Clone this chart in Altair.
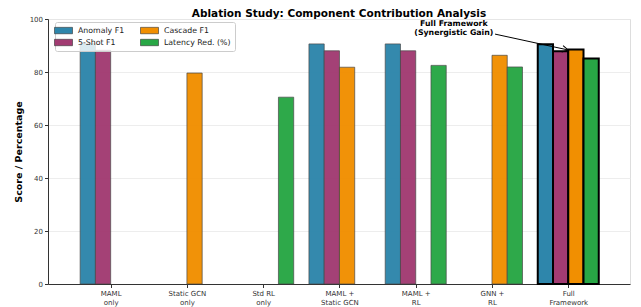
import json
import altair as alt
import pandas as pd

# ---- data ----
categories = ["MAML\nonly", "Static GCN\nonly", "Std RL\nonly", "MAML +\nStatic GCN",
              "MAML +\nRL", "GNN +\nRL", "Full\nFramework"]
series = ["Anomaly F1", "5-Shot F1", "Cascade F1", "Latency Red. (%)"]
colors = ["#2E86AB", "#A23B72", "#F18F01", "#28A745"]
anomaly_f1 = [90.7, None, None, 90.6, 90.6, None, 90.5]
shot5_f1 = [88.2, None, None, 88.0, 88.0, None, 87.8]
cascade_f1 = [None, 79.6, None, 81.8, None, 86.3, 88.5]
latency_red = [None, None, 70.5, None, 82.5, 81.9, 85.1]
y_ticks = [0, 20, 40, 60, 80, 100]
annot_text = "Full Framework\n(Synergistic Gain)"
annot_text_pos = (4.5, 98.0)
annot_tail = (5.04, 94.3)
annot_tip = (6.0, 88.3)

values = [anomaly_f1, shot5_f1, cascade_f1, latency_red]
rows = []
for k, (name, vals) in enumerate(zip(series, values)):
    for ci, v in enumerate(vals):
        if v is None:
            continue
        rows.append({"ci": ci, "k": k, "series": name, "value": v,
                     "full": ci == len(categories) - 1})
df = pd.DataFrame(rows)

label_lists = json.dumps([c.split("\n") for c in categories])

xscale = alt.Scale(domain=[-0.756, 6.744], nice=False, zero=False)
yscale = alt.Scale(domain=[0, 100], nice=False)

FONT = "DejaVu Sans"

base = alt.Chart(df).transform_calculate(
    xc="datum.ci + (datum.k - 1.5) * 0.2",
    x1="datum.xc - 0.1",
    x2="datum.xc + 0.1",
)

color_enc = alt.Color(
    "series:N",
    scale=alt.Scale(domain=series, range=colors),
    legend=alt.Legend(
        title=None, orient="none", legendX=7, legendY=3, columns=2,
        symbolType="M-2.25,-0.8L2.25,-0.8L2.25,0.8L-2.25,0.8Z", symbolSize=64,
        symbolStrokeColor="#333", symbolStrokeWidth=0.6, symbolOpacity=1,
        labelFontSize=7.8, labelFont=FONT, labelColor="#222", labelOffset=10,
        columnPadding=14, rowPadding=3, padding=4,
        fillColor="rgba(255,255,255,0.82)", strokeColor="#cccccc", cornerRadius=2,
    ),
)

x_enc = alt.X("x1:Q", scale=xscale, axis=alt.Axis(
    values=list(range(len(categories))), labelExpr=f"{label_lists}[datum.value]",
    grid=False, title=None, tickSize=3.5, tickColor="#333", domainColor="#333",
    labelFontSize=7, labelFont=FONT, labelColor="#333", labelPadding=2,
    labelLineHeight=8.5, labelBaseline="top"))
y_enc = alt.Y("value:Q", scale=yscale, axis=alt.Axis(
    values=y_ticks, grid=True, gridColor="#e9e9e9", gridWidth=0.8,
    title="Score / Percentage", titleFont=FONT, titleFontSize=9.5,
    titleFontWeight="bold", titleColor="black", titlePadding=6,
    tickSize=3.5, tickColor="#333", domainColor="#333",
    labelFontSize=7, labelFont=FONT, labelColor="#333", labelPadding=2))

bars = base.transform_filter("!datum.full").mark_bar(
    stroke="#444", strokeWidth=0.7, opacity=0.97, orient="vertical"
).encode(x=x_enc, x2="x2:Q", y=y_enc, y2=alt.datum(0), color=color_enc)

full_bars = base.transform_filter("datum.full").mark_bar(
    stroke="black", strokeWidth=2.0, opacity=1, orient="vertical"
).encode(x=x_enc, x2="x2:Q", y=y_enc, y2=alt.datum(0), color=color_enc)

ann_df = pd.DataFrame([{
    "tx": annot_text_pos[0], "ty": annot_text_pos[1], "text": annot_text,
    "ax": annot_tail[0], "ay": annot_tail[1], "bx": annot_tip[0], "by": annot_tip[1],
}])
ann_base = alt.Chart(ann_df)
ann_text = ann_base.mark_text(
    font=FONT, fontSize=7.8, fontWeight="bold", align="center", baseline="middle",
    lineBreak="\n", lineHeight=9, color="black"
).encode(x=alt.X("tx:Q", scale=xscale), y=alt.Y("ty:Q", scale=yscale), text="text:N")
ann_line = ann_base.mark_rule(color="black", strokeWidth=1).encode(
    x=alt.X("ax:Q", scale=xscale), y=alt.Y("ay:Q", scale=yscale),
    x2="bx:Q", y2="by:Q")
ann_head = ann_base.mark_point(
    shape="M-1,-0.55L0,0L-1,0.55", size=144, angle=12, filled=False,
    color="black", strokeWidth=1, opacity=1
).encode(x=alt.X("bx:Q", scale=xscale), y=alt.Y("by:Q", scale=yscale))

chart = alt.layer(bars, full_bars, ann_line, ann_head, ann_text).properties(
    width=582, height=265,
    title=alt.TitleParams("Ablation Study: Component Contribution Analysis",
                          font=FONT, fontSize=10.5, fontWeight="bold",
                          color="black", anchor="middle", offset=0, dy=4),
    autosize=alt.AutoSizeParams(type="none"),
    padding={"left": 40, "top": 11, "right": 3, "bottom": 23},
).configure_view(stroke="#333", strokeWidth=0.8).configure(background="white")

chart.save("out.html", embed_options={"renderer": "svg", "actions": False})
